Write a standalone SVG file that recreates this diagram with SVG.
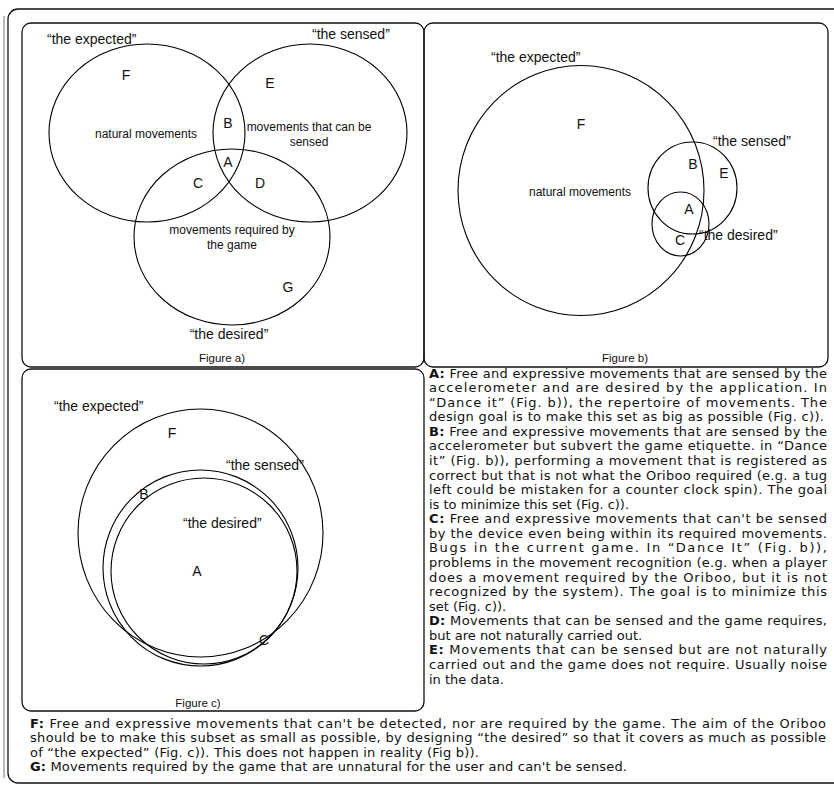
<svg xmlns="http://www.w3.org/2000/svg" width="834" height="785" viewBox="0 0 834 785">
<style>
.frame{fill:none;stroke:#111;stroke-width:1.3}
.set{fill:none;stroke:#000;stroke-width:1.1}
.lbl{font-family:"Liberation Sans",Arial,sans-serif;font-size:14px;fill:#111}
.desc{font-family:"Liberation Sans",Arial,sans-serif;font-size:12px;fill:#111}
.cap{font-family:"Liberation Sans",Arial,sans-serif;font-size:11.5px;fill:#111;text-anchor:middle}
.mid{text-anchor:middle}
.body{font-family:"DejaVu Sans",Verdana,sans-serif;font-size:13px;fill:#111}
.b{font-weight:bold}
</style>
<rect width="834" height="785" fill="#fff"/>
<g id="outer-frame">
<line x1="4" y1="16" x2="4" y2="778" stroke="#bbb" stroke-width="2"/>
<rect class="frame" x="8" y="9" width="850" height="774" rx="10"/>
</g>
<g id="figure-a">
<rect class="frame" x="22" y="23" width="402" height="344" rx="9"/>
<ellipse id="a-expected" class="set" cx="147" cy="133" rx="98" ry="89"/>
<ellipse id="a-sensed" class="set" cx="310" cy="133" rx="97" ry="89"/>
<ellipse id="a-desired" class="set" cx="232" cy="237" rx="98" ry="88"/>
<text class="lbl" x="47" y="44">“the expected”</text>
<text class="lbl" x="312" y="39">“the sensed”</text>
<text class="lbl mid" x="126" y="80">F</text>
<text class="lbl mid" x="270" y="88">E</text>
<text class="lbl mid" x="228" y="128">B</text>
<text class="lbl mid" x="228" y="167">A</text>
<text class="lbl mid" x="198" y="188">C</text>
<text class="lbl mid" x="260" y="188">D</text>
<text class="lbl mid" x="288" y="292">G</text>
<text class="desc mid" x="146" y="138">natural movements</text>
<text class="desc mid" x="309" y="131">movements that can be</text>
<text class="desc mid" x="309" y="146">sensed</text>
<text class="desc mid" x="232" y="234">movements required by</text>
<text class="desc mid" x="232" y="249">the game</text>
<text class="lbl mid" x="229" y="339">“the desired”</text>
<text class="cap" x="222" y="362">Figure a)</text>
</g>
<g id="figure-b">
<rect class="frame" x="424" y="23" width="404" height="344" rx="9"/>
<ellipse id="b-expected" class="set" cx="581" cy="190.5" rx="123" ry="125"/>
<ellipse id="b-sensed" class="set" cx="692.5" cy="188" rx="44.5" ry="46"/>
<ellipse id="b-desired" class="set" cx="680.5" cy="224" rx="28.5" ry="32"/>
<text class="lbl" x="491" y="62">“the expected”</text>
<text class="lbl mid" x="581" y="129">F</text>
<text class="lbl" x="713" y="146">“the sensed”</text>
<text class="lbl mid" x="693" y="169">B</text>
<text class="lbl mid" x="724" y="178">E</text>
<text class="desc mid" x="580" y="196">natural movements</text>
<text class="lbl mid" x="689" y="214">A</text>
<text class="lbl mid" x="680" y="245">C</text>
<text class="lbl" x="699" y="240">“the desired”</text>
<text class="cap" x="625" y="362">Figure b)</text>
</g>
<g id="figure-c">
<rect class="frame" x="22" y="369" width="402" height="342" rx="9"/>
<ellipse id="c-expected" class="set" cx="200.5" cy="533" rx="122.5" ry="124"/>
<ellipse id="c-sensed" class="set" cx="200.5" cy="568" rx="97.5" ry="98"/>
<ellipse id="c-desired" class="set" cx="204" cy="571" rx="93" ry="93"/>
<text class="lbl" x="54" y="411">“the expected”</text>
<text class="lbl mid" x="172" y="438">F</text>
<text class="lbl" x="226" y="470">“the sensed”</text>
<text class="lbl mid" x="144" y="499">B</text>
<text class="lbl" x="183" y="528">“the desired”</text>
<text class="lbl mid" x="197" y="576">A</text>
<text class="lbl mid" x="264" y="645">C</text>
<text class="cap" x="198" y="707">Figure c)</text>
</g>
<g id="legend-right" class="body">
<text x="429" y="377.5" textLength="398" lengthAdjust="spacing"><tspan class="b">A:</tspan> Free and expressive movements that are sensed by the</text>
<text x="429" y="392.1" textLength="398" lengthAdjust="spacing">accelerometer and are desired by the application. In</text>
<text x="429" y="406.6" textLength="398" lengthAdjust="spacing">“Dance it” (Fig. b)), the repertoire of movements. The</text>
<text x="429" y="421.2" textLength="395" lengthAdjust="spacing">design goal is to make this set as big as possible (Fig. c)).</text>
<text x="429" y="435.8" textLength="398" lengthAdjust="spacing"><tspan class="b">B:</tspan> Free and expressive movements that are sensed by the</text>
<text x="429" y="450.4" textLength="398" lengthAdjust="spacing">accelerometer but subvert the game etiquette. in “Dance</text>
<text x="429" y="464.9" textLength="398" lengthAdjust="spacing">it” (Fig. b)), performing a movement that is registered as</text>
<text x="429" y="479.5" textLength="398" lengthAdjust="spacing">correct but that is not what the Oriboo required (e.g. a tug</text>
<text x="429" y="494.1" textLength="398" lengthAdjust="spacing">left could be mistaken for a counter clock spin). The goal</text>
<text x="429" y="508.6">is to minimize this set (Fig. c)).</text>
<text x="429" y="523.2" textLength="398" lengthAdjust="spacing"><tspan class="b">C:</tspan> Free and expressive movements that can't be sensed</text>
<text x="429" y="537.8" textLength="398" lengthAdjust="spacing">by the device even being within its required movements.</text>
<text x="429" y="552.3" textLength="398" lengthAdjust="spacing">Bugs in the current game. In “Dance It” (Fig. b)),</text>
<text x="429" y="566.9" textLength="398" lengthAdjust="spacing">problems in the movement recognition (e.g. when a player</text>
<text x="429" y="581.5" textLength="398" lengthAdjust="spacing">does a movement required by the Oriboo, but it is not</text>
<text x="429" y="596.1" textLength="398" lengthAdjust="spacing">recognized by the system). The goal is to minimize this</text>
<text x="429" y="610.6">set (Fig. c)).</text>
<text x="429" y="625.2" textLength="398" lengthAdjust="spacing"><tspan class="b">D:</tspan> Movements that can be sensed and the game requires,</text>
<text x="429" y="639.8">but are not naturally carried out.</text>
<text x="429" y="654.3" textLength="398" lengthAdjust="spacing"><tspan class="b">E:</tspan> Movements that can be sensed but are not naturally</text>
<text x="429" y="668.9" textLength="398" lengthAdjust="spacing">carried out and the game does not require. Usually noise</text>
<text x="429" y="683.5">in the data.</text>
</g>
<g id="legend-bottom" class="body">
<text x="30" y="727.5" textLength="796" lengthAdjust="spacing"><tspan class="b">F:</tspan> Free and expressive movements that can't be detected, nor are required by the game. The aim of the Oriboo</text>
<text x="30" y="742" textLength="796" lengthAdjust="spacing">should be to make this subset as small as possible, by designing “the desired” so that it covers as much as possible</text>
<text x="30" y="756.5" textLength="449" lengthAdjust="spacing">of “the expected” (Fig. c)). This does not happen in reality (Fig b)).</text>
<text x="30" y="771" textLength="597" lengthAdjust="spacing"><tspan class="b">G:</tspan> Movements required by the game that are unnatural for the user and can't be sensed.</text>
</g>
</svg>
